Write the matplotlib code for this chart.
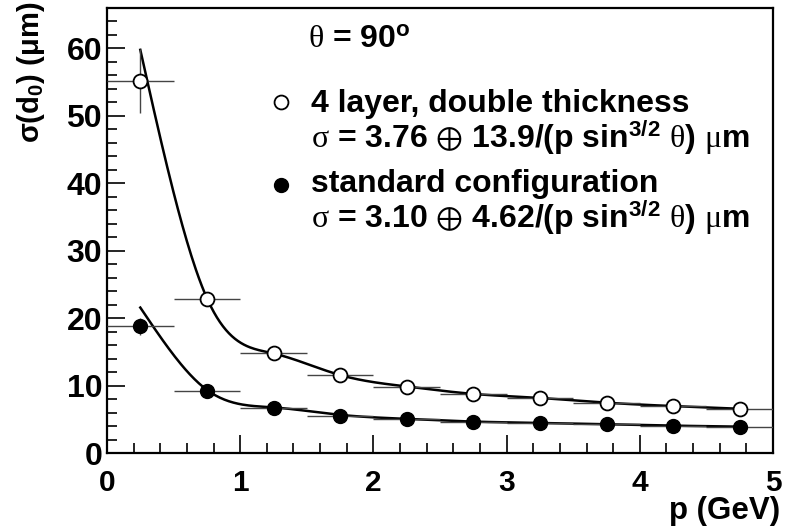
import numpy as np
import matplotlib
matplotlib.use("Agg")
import matplotlib.pyplot as plt

# ---- data ----
p_centers = [0.25, 0.75, 1.25, 1.75, 2.25, 2.75, 3.25, 3.75, 4.25, 4.75]
p_halfwidth = [0.25] * 10
sigma_double = [55.2, 22.9, 14.8, 11.6, 9.8, 8.75, 8.25, 7.5, 7.0, 6.6]
err_double = [4.7, 0.3, 0.3, 0.2, 0.2, 0.2, 0.2, 0.2, 0.2, 0.2]
sigma_std = [18.8, 9.3, 6.7, 5.6, 5.05, 4.6, 4.5, 4.3, 4.1, 3.95]
err_std = [1.2, 0.2, 0.2, 0.1, 0.1, 0.1, 0.1, 0.1, 0.1, 0.1]
# smooth curve knots
curve_double = [59.8, 23.0, 14.8, 11.6, 9.9, 8.8, 8.2, 7.5, 7.0, 6.6]
curve_std = [21.6, 9.4, 6.8, 5.7, 5.1, 4.7, 4.5, 4.3, 4.1, 3.95]

label_double = "4 layer, double thickness"
formula_double = r"$\mathsf{σ}$ = 3.76 $\mathcal{⊕}$ 13.9/(p sin$^{3/2}$ $\mathsf{θ}$) $\mathsf{μ}$m"
label_std = "standard configuration"
formula_std = r"$\mathsf{σ}$ = 3.10 $\mathcal{⊕}$ 4.62/(p sin$^{3/2}$ $\mathsf{θ}$) $\mathsf{μ}$m"
angle_label = r"$\mathsf{θ}$ = 90$^{o}$"


def natural_spline(x, y, xs):
    x = np.asarray(x, float); y = np.asarray(y, float)
    n = len(x)
    h = np.diff(x)
    A = np.zeros((n, n)); b = np.zeros(n)
    A[0, 0] = 1; A[-1, -1] = 1
    for i in range(1, n - 1):
        A[i, i - 1] = h[i - 1]; A[i, i] = 2 * (h[i - 1] + h[i]); A[i, i + 1] = h[i]
        b[i] = 3 * ((y[i + 1] - y[i]) / h[i] - (y[i] - y[i - 1]) / h[i - 1])
    c = np.linalg.solve(A, b)
    out = np.empty_like(xs)
    for k, xv in enumerate(xs):
        i = min(max(np.searchsorted(x, xv) - 1, 0), n - 2)
        dx = xv - x[i]
        bi = (y[i + 1] - y[i]) / h[i] - h[i] * (2 * c[i] + c[i + 1]) / 3
        di = (c[i + 1] - c[i]) / (3 * h[i])
        out[k] = y[i] + bi * dx + c[i] * dx ** 2 + di * dx ** 3
    return out


plt.rcParams['font.family'] = ['Liberation Sans', 'DejaVu Sans']
plt.rcParams['font.weight'] = 'bold'
plt.rcParams['mathtext.fontset'] = 'custom'
plt.rcParams['mathtext.rm'] = 'Liberation Sans:bold'
plt.rcParams['mathtext.bf'] = 'Liberation Sans:bold'
plt.rcParams['mathtext.it'] = 'Liberation Sans:bold'
plt.rcParams['mathtext.sf'] = 'Liberation Serif:weight=normal'
plt.rcParams['mathtext.cal'] = 'STIXGeneral:weight=normal'
plt.rcParams['mathtext.default'] = 'bf'
plt.rcParams['mathtext.fallback'] = 'stix'

fig = plt.figure(figsize=(7.9, 5.31), dpi=100)
ax = fig.add_axes([107 / 790, 1 - 453.3 / 531, 666 / 790, 445.3 / 531])

xs = np.linspace(p_centers[0], p_centers[-1], 400)
ax.plot(xs, natural_spline(p_centers, curve_double, xs), color='black', lw=1.8, zorder=3)
ax.plot(xs, natural_spline(p_centers, curve_std, xs), color='black', lw=1.8, zorder=3)

ax.errorbar(p_centers, sigma_double, xerr=p_halfwidth, yerr=err_double, fmt='o',
            mfc='white', mec='black', mew=1.3, ms=10, ecolor='#444444', elinewidth=1.0,
            capsize=0, zorder=4)
ax.errorbar(p_centers, sigma_std, xerr=p_halfwidth, yerr=err_std, fmt='o',
            mfc='black', mec='black', ms=10, ecolor='#444444', elinewidth=1.0,
            capsize=0, zorder=4)

ax.set_xlim(0, 5)
ax.set_ylim(0, 66)
ax.set_xticks(range(0, 6))
ax.set_yticks(range(0, 61, 10))
ax.set_xticks(np.arange(0, 5.01, 0.2), minor=True)
ax.set_yticks(np.arange(0, 66, 2), minor=True)
ax.tick_params(which='both', direction='in', top=False, right=False, width=1.2)
ax.tick_params(which='major', length=13)
ax.tick_params(which='minor', length=7)
ax.tick_params(axis='y', labelsize=23, pad=3.5)
ax.tick_params(axis='x', labelsize=21.5, pad=11)
for lab in ax.get_xticklabels() + ax.get_yticklabels():
    lab.set_fontweight('bold')
for s in ax.spines.values():
    s.set_linewidth(1.6)

fig.text(780 / 790, 1 - 511 / 531, "p (GeV)", ha='right', va='center', fontsize=22.5, fontweight='bold')
fig.text(31 / 790, 1 - 72 / 531, r"σ(d$_{0}$) (μm)", rotation=90, ha='center', va='center',
         fontsize=21, fontweight='bold')

fs = 23
tx = 0.306
ax.text(0.302, 0.910, angle_label, transform=ax.transAxes, fontsize=fs, va='baseline', ha='left')
ax.plot([0.262], [0.790], transform=ax.transAxes, marker='o', mfc='white', mec='black', mew=1.3, ms=10, ls='')
ax.text(tx, 0.767, label_double, transform=ax.transAxes, fontsize=fs, fontweight='bold', va='baseline')
ax.text(tx, 0.686, formula_double, transform=ax.transAxes, fontsize=fs, va='baseline')
ax.plot([0.262], [0.6025], transform=ax.transAxes, marker='o', mfc='black', mec='black', ms=10, ls='')
ax.text(tx, 0.5875, label_std, transform=ax.transAxes, fontsize=fs, fontweight='bold', va='baseline')
ax.text(tx, 0.506, formula_std, transform=ax.transAxes, fontsize=fs, va='baseline')

fig.savefig("out.png", dpi=100)
